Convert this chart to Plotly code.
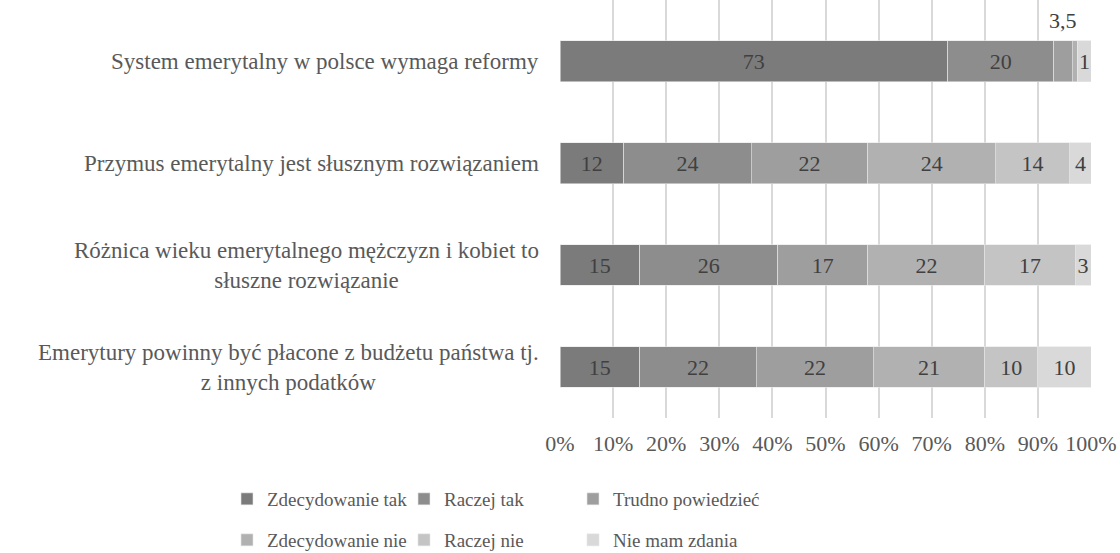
import plotly.graph_objects as go

categories = [
    "System emerytalny w polsce wymaga reformy",
    "Przymus emerytalny jest słusznym rozwiązaniem",
    "Różnica wieku emerytalnego mężczyzn i kobiet to<br>słuszne rozwiązanie",
    "Emerytury powinny być płacone z budżetu państwa tj.<br>z innych podatków",
]
series_names = ["Zdecydowanie tak", "Raczej tak", "Trudno powiedzieć",
                "Zdecydowanie nie", "Raczej nie", "Nie mam zdania"]
zdecydowanie_tak = [73, 12, 15, 15]
raczej_tak = [20, 24, 26, 22]
trudno_powiedziec = [3.5, 22, 17, 22]
zdecydowanie_nie = [1, 24, 22, 21]
raczej_nie = [0, 14, 17, 10]
nie_mam_zdania = [2.5, 4, 3, 10]
x_ticks = [0, 10, 20, 30, 40, 50, 60, 70, 80, 90, 100]
x_tick_labels = [f"{v}%" for v in x_ticks]

series_values = [zdecydowanie_tak, raczej_tak, trudno_powiedziec,
                 zdecydowanie_nie, raczej_nie, nie_mam_zdania]
colors = ["#7b7b7b", "#8d8d8d", "#9e9e9e", "#b1b1b1", "#c4c4c4", "#d9d9d9"]

# labels on first row that are drawn separately (outside / moved)
hidden = {(2, 0), (3, 0), (4, 0), (5, 0)}

FONT = "Times New Roman, Liberation Serif, DejaVu Serif, serif"
LABEL_SIZE = 22


def fmt(v):
    return ("%g" % v).replace(".", ",")


legend_ids = ["legend", "legend2", "legend3", "legend4", "legend5", "legend6"]

fig = go.Figure()
for si, (name, vals) in enumerate(zip(series_names, series_values)):
    texts = ["" if (si, ri) in hidden or v == 0 else fmt(v) for ri, v in enumerate(vals)]
    fig.add_trace(go.Bar(
        name=name, y=categories, x=vals, orientation="h",
        marker=dict(color=colors[si], line=dict(color="#e6e6e6", width=0.6)),
        text=texts, textposition="inside", insidetextanchor="middle",
        textangle=0, constraintext="none",
        textfont=dict(family=FONT, size=LABEL_SIZE, color="#404040"),
        legend=legend_ids[si],
        hoverinfo="skip",
    ))

# moved labels for the first row
c0 = categories[0]
start_trudno = zdecydowanie_tak[0] + raczej_tak[0]
fig.add_annotation(x=start_trudno + trudno_powiedziec[0] / 2, y=c0, yshift=41,
                   text=fmt(trudno_powiedziec[0]), showarrow=False,
                   font=dict(family=FONT, size=LABEL_SIZE, color="#404040"))
start_last = start_trudno + trudno_powiedziec[0] + zdecydowanie_nie[0] + raczej_nie[0]
fig.add_annotation(x=start_last + nie_mam_zdania[0] / 2, y=c0,
                   text=fmt(zdecydowanie_nie[0]), showarrow=False,
                   font=dict(family=FONT, size=LABEL_SIZE, color="#404040"))

# category labels: lines centred within the block, block right edge near the axis
for c in categories:
    fig.add_annotation(x=0, xref="paper", y=c, yref="y", xanchor="right",
                       xshift=-19, text=c, showarrow=False, align="center",
                       font=dict(family=FONT, size=23, color="#595959"))

fig.update_layout(
    width=1120, height=553,
    margin=dict(l=560, r=29, t=0, b=135),
    paper_bgcolor="white", plot_bgcolor="white",
    barmode="stack", bargap=0.6,
    showlegend=True,
    xaxis=dict(range=[0, 100], tickvals=x_ticks, ticktext=x_tick_labels,
               showgrid=True, gridcolor="#d9d9d9", gridwidth=1.5,
               zeroline=False, showline=False,
               ticks="outside", ticklen=6, tickcolor="rgba(0,0,0,0)",
               tickfont=dict(family=FONT, size=LABEL_SIZE, color="#595959")),
    yaxis=dict(categoryorder="array", categoryarray=categories,
               range=[3.5, -0.6], showticklabels=False, showgrid=False,
               zeroline=False, showline=False),
)

# legend: three columns, two rows
legend_x = [227, 404, 573]
row_y = [499, 540]
for si, lid in enumerate(legend_ids):
    col, row = si % 3, si // 3
    fig.update_layout({lid: dict(
        orientation="h", xref="container", yref="container",
        x=legend_x[col] / 1120, y=1 - row_y[row] / 553,
        xanchor="left", yanchor="middle",
        font=dict(family=FONT, size=19, color="#595959"),
        bgcolor="rgba(0,0,0,0)", itemwidth=30,
    )})

fig.write_html("out.html", post_script="document.body.style.margin='0';",
               config={"displayModeBar": False})
